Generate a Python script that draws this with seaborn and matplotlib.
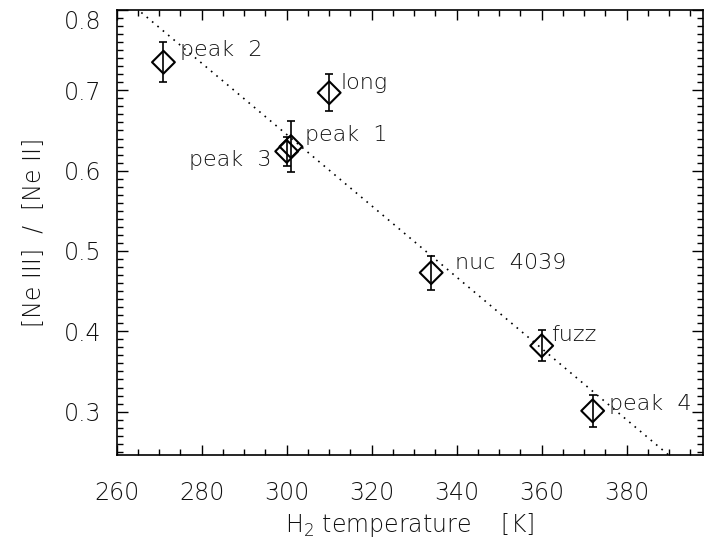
import numpy as np
import pandas as pd
import matplotlib
matplotlib.use("Agg")
import matplotlib.pyplot as plt
import seaborn as sns
from matplotlib.ticker import MultipleLocator

# Measured regions: H2 excitation temperature vs. neon line ratio
regions = ["peak  2", "long", "peak  1", "peak  3", "nuc  4039", "fuzz", "peak  4"]
h2_temp = [271, 310, 301, 300, 334, 360, 372]
ne_ratio = [0.735, 0.697, 0.630, 0.624, 0.473, 0.382, 0.301]
ne_ratio_err = [0.025, 0.023, 0.032, 0.018, 0.021, 0.019, 0.020]

# Linear fit of the ratio against temperature
fit_slope = -0.00444
fit_intercept = 1.977

# Label offsets (points) and horizontal alignment for each region name
label_dx = [12, 8, 10, -11, 17, 7, 12]
label_dy = [9, 7, 8, -6, 7, 8, 5]
label_ha = ["left", "left", "left", "right", "left", "left", "left"]

df = pd.DataFrame({"region": regions, "T": h2_temp, "ratio": ne_ratio, "err": ne_ratio_err})

sns.set_theme(style="ticks")
plt.rcParams["font.family"] = ["DejaVu Sans"]
plt.rcParams["font.weight"] = 200
plt.rcParams["axes.labelweight"] = 200
text_color = "#111111"

fig = plt.figure(figsize=(7.06, 5.46), dpi=100)
ax = fig.add_axes([0.1653, 0.1667, 0.8307, 0.815])

xlim = (260, 398)
ylim = (0.246, 0.80)

xx = np.array(xlim, dtype=float)
ax.plot(xx, fit_slope * xx + fit_intercept, color="black", lw=1.2,
        linestyle=(0, (1, 3.2)), zorder=1)

ax.errorbar(df["T"], df["ratio"], yerr=df["err"], fmt="none", ecolor="black",
            elinewidth=1.2, capsize=2.9, capthick=1.2, zorder=2)

sns.scatterplot(data=df, x="T", y="ratio", marker="D", s=135, facecolor="none",
                edgecolor="black", linewidth=1.5, ax=ax, zorder=3, legend=False)

for name, t, r, dx, dy, ha in zip(regions, h2_temp, ne_ratio, label_dx, label_dy, label_ha):
    ax.annotate(name, (t, r), xytext=(dx, dy), textcoords="offset points",
                ha=ha, va="center", fontsize=16, color=text_color, fontweight=200)

ax.set_xlim(*xlim)
ax.set_ylim(*ylim)
ax.xaxis.set_minor_locator(MultipleLocator(5))
ax.yaxis.set_minor_locator(MultipleLocator(0.01))
ax.set_xticks([260, 280, 300, 320, 340, 360, 380])
ax.set_yticks([0.3, 0.4, 0.5, 0.6, 0.7, 0.8])
ax.set_yticklabels(["0.3", "0.4", "0.5", "0.6", "0.7", "0.8"])

ax.tick_params(which="both", direction="in", top=True, right=True, colors="black",
               labelcolor=text_color, labelsize=17)
ax.tick_params(axis="x", which="major", length=7, width=1, pad=19)
ax.tick_params(axis="y", which="major", length=8, width=1, pad=11)
ax.tick_params(which="minor", length=4, width=1)
# keep the top y label inside the figure
ax.get_yticklabels()[-1].set_verticalalignment("top")
for s in ax.spines.values():
    s.set_linewidth(1.2)
    s.set_color("black")

ax.set_xlabel("H$_2$ temperature    [K]", fontsize=17, color=text_color,
              fontweight=200, labelpad=4)
ax.set_ylabel("[Ne III]  /  [Ne II]", fontsize=17, color=text_color,
              fontweight=200, labelpad=13)

fig.savefig("out.png", dpi=100)
